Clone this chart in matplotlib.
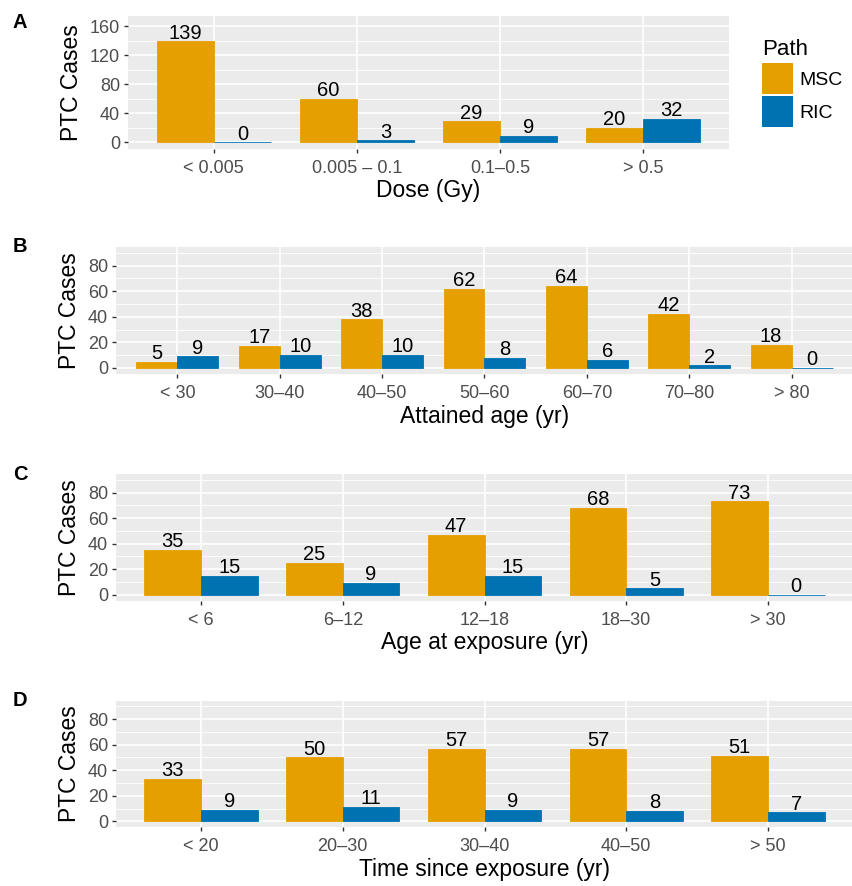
import matplotlib
matplotlib.use("Agg")
import matplotlib.pyplot as plt
from matplotlib.patches import Patch
import numpy as np

plt.rcParams['font.family'] = ['Liberation Sans', 'DejaVu Sans']

# data
dose_cats = ['< 0.005', '0.005 \u2013 0.1', '0.1\u20130.5', '> 0.5']
dose_msc = [139, 60, 29, 20]
dose_ric = [0, 3, 9, 32]

att_cats = ['< 30', '30\u201340', '40\u201350', '50\u201360', '60\u201370', '70\u201380', '> 80']
att_msc = [5, 17, 38, 62, 64, 42, 18]
att_ric = [9, 10, 10, 8, 6, 2, 0]

exp_cats = ['< 6', '6\u201312', '12\u201318', '18\u201330', '> 30']
exp_msc = [35, 25, 47, 68, 73]
exp_ric = [15, 9, 15, 5, 0]

tse_cats = ['< 20', '20\u201330', '30\u201340', '40\u201350', '> 50']
tse_msc = [33, 50, 57, 57, 51]
tse_ric = [9, 11, 9, 8, 7]

MSC_COL = '#E69F00'
RIC_COL = '#0072B2'

W, H = 853, 886
fig = plt.figure(figsize=(W / 100, H / 100), dpi=100)


def make_axes(l, r, t, b):
    return fig.add_axes([l / W, 1 - b / H, (r - l) / W, (b - t) / H])


def panel(ax, cats, msc, ric, xlabel, ylim, major, minor, letter, letter_y):
    x = np.arange(len(cats))
    ax.set_facecolor('#EBEBEB')
    ax.bar(x - 0.2, msc, 0.4, color=MSC_COL, edgecolor=MSC_COL, linewidth=0.6, zorder=3)
    ax.bar(x + 0.2, ric, 0.4, color=RIC_COL, edgecolor=RIC_COL, linewidth=0.6, zorder=3)
    for xi, v in zip(x - 0.2, msc):
        ax.annotate(str(v), (xi, v), xytext=(0, 2), textcoords='offset points',
                    ha='center', va='baseline', fontsize=14.5, zorder=4)
    for xi, v in zip(x + 0.2, ric):
        ax.annotate(str(v), (xi, v), xytext=(0, 2), textcoords='offset points',
                    ha='center', va='baseline', fontsize=14.5, zorder=4)
    ax.set_xlim(-0.6, len(cats) - 0.4)
    ax.set_ylim(*ylim)
    ax.set_xticks(x)
    ax.set_xticklabels(cats)
    ax.set_yticks(major)
    ax.set_yticks(minor, minor=True)
    ax.grid(True, which='major', color='white', linewidth=1.2, zorder=0)
    ax.grid(True, which='minor', axis='y', color='white', linewidth=0.6, zorder=0)
    ax.set_axisbelow(True)
    for s in ax.spines.values():
        s.set_visible(False)
    ax.tick_params(which='major', length=3.2, width=1.0, color='#333333',
                   labelcolor='#4D4D4D', labelsize=13, pad=2.5)
    ax.tick_params(axis='x', which='major', pad=4.8)
    ax.tick_params(which='minor', length=0)
    ax.set_xlabel(xlabel, fontsize=16.5, labelpad=2)
    ax.set_ylabel('PTC Cases', fontsize=16.5, labelpad=5)
    fig.text(13 / W, 1 - letter_y / H, letter, fontsize=14.5, fontweight='bold',
             va='center', ha='left')


axA = make_axes(128, 729, 16.4, 148.5)
panel(axA, dose_cats, dose_msc, dose_ric, 'Dose (Gy)', (-8.25, 173.25),
      [0, 40, 80, 120, 160], [20, 60, 100, 140], 'A', 22)

axB = make_axes(116, 853, 247, 373.7)
panel(axB, att_cats, att_msc, att_ric, 'Attained age (yr)', (-4.5, 94.5),
      [0, 20, 40, 60, 80], [10, 30, 50, 70, 90], 'B', 247)

axC = make_axes(116, 853, 474, 600.5)
panel(axC, exp_cats, exp_msc, exp_ric, 'Age at exposure (yr)', (-4.5, 94.5),
      [0, 20, 40, 60, 80], [10, 30, 50, 70, 90], 'C', 474)

axD = make_axes(116, 853, 700.7, 827)
panel(axD, tse_cats, tse_msc, tse_ric, 'Time since exposure (yr)', (-4.5, 94.5),
      [0, 20, 40, 60, 80], [10, 30, 50, 70, 90], 'D', 701)

# legend
fig.text(762 / W, 1 - 55 / H, 'Path', fontsize=16, ha='left', va='baseline')
handles = [Patch(facecolor=MSC_COL, label='MSC'), Patch(facecolor=RIC_COL, label='RIC')]
leg = fig.legend(handles=handles, loc='upper left',
                 bbox_to_anchor=(762 / W, 1 - 63 / H), frameon=False,
                 fontsize=14, handlelength=1.6, handleheight=2.08,
                 labelspacing=0.1, handletextpad=0.3, borderpad=0, borderaxespad=0)

fig.savefig('out.png', dpi=100)
